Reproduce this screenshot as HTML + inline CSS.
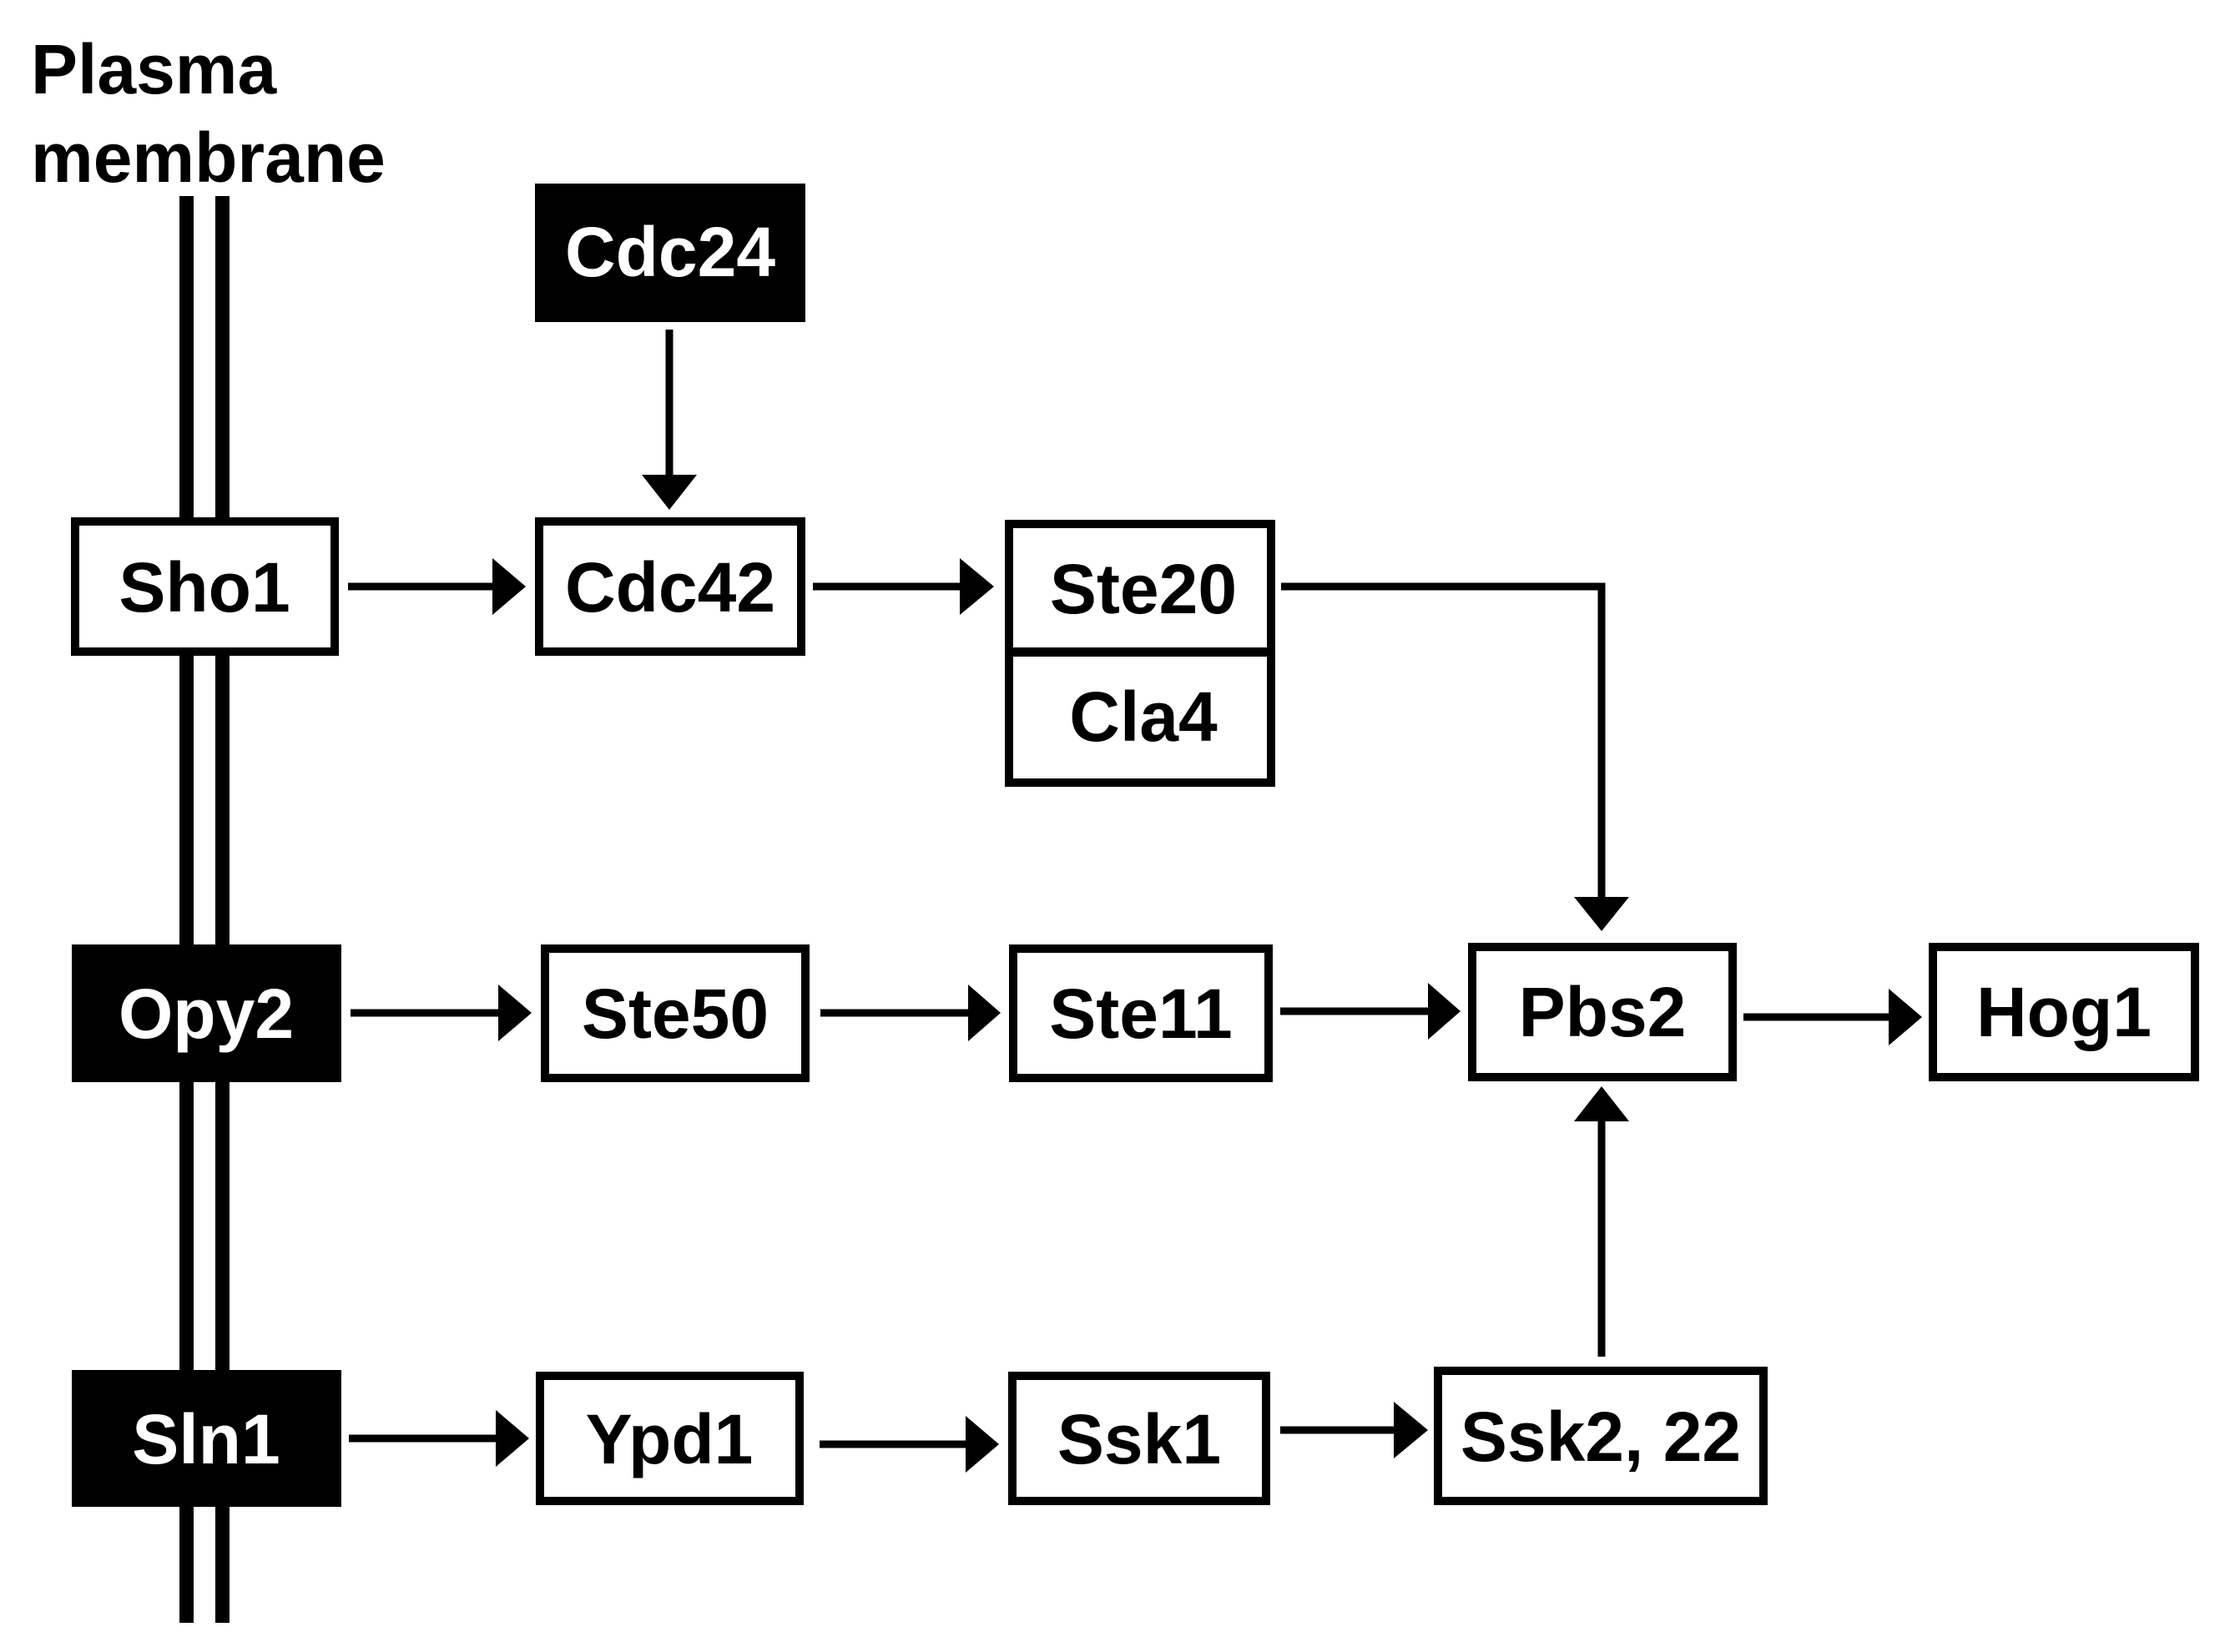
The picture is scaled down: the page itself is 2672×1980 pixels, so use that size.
<!DOCTYPE html>
<html><head><meta charset="utf-8"><style>
html,body{margin:0;padding:0;background:#fff;}
svg{display:block;}
text{font-family:"Liberation Sans",Arial,sans-serif;font-weight:bold;font-size:84px;}
</style></head><body>
<svg width="2672" height="1980" viewBox="0 0 2672 1980" xmlns="http://www.w3.org/2000/svg">
<!-- membrane -->
<rect x="215" y="235" width="17" height="1710" fill="#000"/>
<rect x="258" y="235" width="17" height="1710" fill="#000"/>
<text x="37" y="112">Plasma</text>
<text x="37" y="218">membrane</text>

<!-- connectors -->
<g stroke="#000" stroke-width="9" fill="none">
<line x1="802" y1="395" x2="802" y2="575"/>
<line x1="417" y1="703" x2="595" y2="703"/>
<line x1="974" y1="703" x2="1155" y2="703"/>
<polyline points="1535,703 1919,703 1919,1080"/>
<line x1="2089" y1="1219" x2="2268" y2="1219"/>
<line x1="1534" y1="1212" x2="1716" y2="1212"/>
<line x1="420" y1="1214" x2="600" y2="1214"/>
<line x1="983" y1="1214" x2="1165" y2="1214"/>
<line x1="418" y1="1724" x2="600" y2="1724"/>
<line x1="982" y1="1731" x2="1163" y2="1731"/>
<line x1="1534" y1="1714" x2="1675" y2="1714"/>
<line x1="1919" y1="1626" x2="1919" y2="1340"/>
</g>
<g fill="#000">
<polygon points="769,569 835,569 802,611"/>
<polygon points="590,669 590,737 630,703"/>
<polygon points="1150,669 1150,737 1191,703"/>
<polygon points="1886,1075 1952,1075 1919,1116"/>
<polygon points="2263,1185 2263,1253 2303,1219"/>
<polygon points="1711,1178 1711,1246 1750,1212"/>
<polygon points="597,1180 597,1248 637,1214"/>
<polygon points="1160,1180 1160,1248 1199,1214"/>
<polygon points="594,1690 594,1758 634,1724"/>
<polygon points="1157,1697 1157,1765 1197,1731"/>
<polygon points="1670,1680 1670,1748 1711,1714"/>
<polygon points="1886,1344 1952,1344 1919,1302"/>
</g>

<!-- boxes -->
<g stroke="#000" stroke-width="10" fill="#fff">
<rect x="90" y="625" width="311" height="156"/>
<rect x="646" y="625" width="314" height="156"/>
<rect x="1209" y="628" width="314" height="310"/>
<rect x="653" y="1137" width="312" height="155"/>
<rect x="1214" y="1137" width="306" height="155"/>
<rect x="1764" y="1135" width="312" height="156"/>
<rect x="2316" y="1135" width="314" height="156"/>
<rect x="647" y="1649" width="311" height="150"/>
<rect x="1213" y="1649" width="304" height="150"/>
<rect x="1723" y="1643" width="390" height="156"/>
</g>
<rect x="1204" y="776" width="324" height="11" fill="#000"/>
<rect x="641" y="220" width="324" height="166" fill="#000"/>
<rect x="86" y="1132" width="323" height="165" fill="#000"/>
<rect x="86" y="1642" width="323" height="164" fill="#000"/>

<!-- labels -->
<g text-anchor="middle">
<text x="803" y="331" fill="#fff">Cdc24</text>
<text x="245" y="733">Sho1</text>
<text x="803" y="733">Cdc42</text>
<text x="1370" y="735">Ste20</text>
<text x="1370" y="888">Cla4</text>
<text x="247" y="1244" fill="#fff">Opy2</text>
<text x="809" y="1244">Ste50</text>
<text x="1367" y="1244">Ste11</text>
<text x="1920" y="1242">Pbs2</text>
<text x="2473" y="1242">Hog1</text>
<text x="247" y="1754" fill="#fff">Sln1</text>
<text x="802" y="1754">Ypd1</text>
<text x="1365" y="1754">Ssk1</text>
<text x="1918" y="1751">Ssk2, 22</text>
</g>
</svg>
</body></html>
